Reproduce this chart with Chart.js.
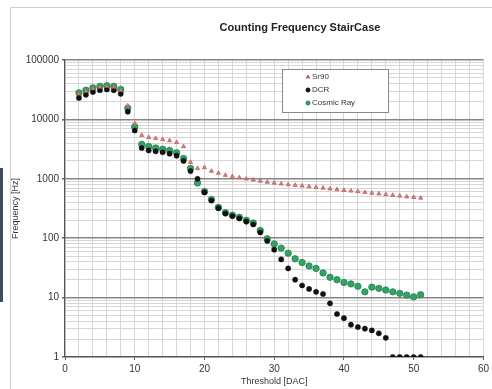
<!DOCTYPE html>
<html>
<head>
<meta charset="utf-8">
<script src="https://cdn.jsdelivr.net/npm/chart.js@4/dist/chart.umd.min.js"></script>
<style>
  html, body { margin: 0; padding: 0; background: #fff; }
  #wrap { width: 492px; height: 389px; position: relative; }
</style>
</head>
<body>
<div id="wrap"><canvas id="c"></canvas></div>
<script>
  // thresholds in DAC units
  var thresholds = [2, 3, 4, 5, 6, 7, 8, 9, 10, 11, 12, 13, 14, 15, 16, 17, 18, 19, 20, 21,
    22, 23, 24, 25, 26, 27, 28, 29, 30, 31, 32, 33, 34, 35, 36, 37, 38, 39, 40, 41,
    42, 43, 44, 45, 46, 47, 48, 49, 50, 51];

  var sr90 = [27000, 30000, 33000, 35000, 36000, 35000, 31000, 17000, 8500, 5400,
    5000, 4800, 4600, 4400, 4100, 3500, 1900, 1500, 1550, 1350,
    1250, 1150, 1100, 1050, 1000, 960, 920, 880, 850, 820,
    800, 780, 760, 740, 720, 700, 680, 660, 640, 625,
    610, 590, 575, 560, 545, 530, 515, 500, 490, 475];

  var dcr = [23000, 26000, 29000, 31000, 32000, 31000, 27000, 13500, 6500, 3300,
    3000, 2900, 2800, 2650, 2450, 2000, 1350, 1000, 590, 430,
    320, 260, 235, 215, 190, 170, 125, 90, 64, 44,
    31, 20, 16, 14, 12.5, 11.5, 8, 5.3, 4.5, 3.5,
    3.2, 3.0, 2.8, 2.5, 2.1, 1, 1, 1, 1, 1];

  var cosmic = [28000, 31000, 34000, 36000, 37000, 36000, 32000, 15500, 7500, 3800,
    3500, 3300, 3150, 3000, 2750, 2200, 1500, 850, 610, 450,
    330, 270, 245, 225, 200, 180, 135, 98, 80, 68,
    56, 45, 39, 34, 31, 26, 22, 20, 18, 17,
    15.5, 12.5, 15, 14.3, 13.4, 12.5, 11.8, 11, 10.3, 11.2];

  var yTicks = [];
  [1, 10, 100, 1000, 10000].forEach(function (d) {
    for (var k = 1; k < 10; k++) yTicks.push(d * k);
  });
  yTicks.push(100000);

  function pts(ys) {
    return ys.map(function (v, i) { return { x: thresholds[i], y: v }; });
  }
  function isDecade(v) {
    var l = Math.log10(v);
    return Math.abs(l - Math.round(l)) < 1e-9;
  }

  var FONT = "'Liberation Sans', Arial, sans-serif";

  // white page, thin frame and the blue strip on the left
  var framePlugin = {
    id: "frame",
    beforeDraw: function (chart) {
      var ctx = chart.ctx;
      ctx.save();
      ctx.fillStyle = "#fff";
      ctx.fillRect(0, 0, chart.width, chart.height);
      ctx.strokeStyle = "#cfcfcf";
      ctx.lineWidth = 1;
      ctx.beginPath();
      ctx.moveTo(10.5, 389);
      ctx.lineTo(10.5, 7.5);
      ctx.lineTo(492, 7.5);
      ctx.stroke();
      ctx.fillStyle = "#3c4d60";
      ctx.fillRect(0, 168, 3, 134);
      ctx.restore();
    },
    afterDraw: function (chart) {
      var ctx = chart.ctx;
      ctx.save();
      ctx.fillStyle = "#222";
      ctx.font = "bold 11px " + FONT;
      ctx.textAlign = "center";
      ctx.textBaseline = "middle";
      ctx.fillText("Counting Frequency StairCase", 300, 28);
      ctx.restore();
    }
  };

  // legend box sitting inside the plot, like the original
  var boxLegend = {
    id: "boxLegend",
    afterDatasetsDraw: function (chart) {
      var ctx = chart.ctx;
      ctx.save();
      ctx.fillStyle = "#fff";
      ctx.fillRect(282, 69, 106, 43);
      ctx.strokeStyle = "#8a8a8a";
      ctx.lineWidth = 1;
      ctx.strokeRect(282.5, 69.5, 106, 43);
      ctx.font = "8px " + FONT;
      ctx.textBaseline = "middle";
      chart.data.datasets.forEach(function (ds, i) {
        var y = 77 + i * 13;
        ctx.fillStyle = ds.pointBackgroundColor;
        ctx.strokeStyle = ds.pointBorderColor;
        Chart.helpers.drawPoint(ctx, {
          pointStyle: ds.pointStyle, radius: 2, rotation: 0, borderWidth: 0.6
        }, 308, y);
        ctx.fillStyle = "#333";
        ctx.fillText(ds.label, 312, y);
      });
      ctx.restore();
    }
  };

  new Chart(document.getElementById("c"), {
    type: "scatter",
    data: {
      datasets: [
        { label: "Sr90", data: pts(sr90), pointStyle: "triangle", pointRadius: 2.4,
          pointBackgroundColor: "#d88080", pointBorderColor: "#b85858", pointBorderWidth: 0.7 },
        { label: "DCR", data: pts(dcr), pointStyle: "circle", pointRadius: 2.6,
          pointBackgroundColor: "#111", pointBorderColor: "#111", pointBorderWidth: 0.5 },
        { label: "Cosmic Ray", data: pts(cosmic), pointStyle: "circle", pointRadius: 3.2,
          pointBackgroundColor: "#33a365", pointBorderColor: "#23804c", pointBorderWidth: 0.8 }
      ]
    },
    options: {
      responsive: true, maintainAspectRatio: false, animation: false,
      layout: { padding: { top: 60, right: 7, left: 0, bottom: 0 } },
      plugins: { legend: { display: false }, tooltip: { enabled: false } },
      scales: {
        x: {
          type: "linear", min: 0, max: 60,
          afterFit: function (s) { s.height = 32; },
          ticks: {
            stepSize: 2, autoSkip: false, maxRotation: 0, padding: 3,
            color: "#333", font: { family: FONT, size: 10 },
            callback: function (v) { return v % 10 === 0 ? String(v) : ""; }
          },
          grid: {
            color: "#d6d6d6", lineWidth: 1, tickLength: 3,
            tickColor: function (c) { return c.tick && c.tick.value % 10 === 0 ? "#666" : "rgba(0,0,0,0)"; }
          },
          border: { color: "#555", width: 1.2 },
          title: {
            display: true, text: "Threshold [DAC]", color: "#333",
            font: { family: FONT, size: 9 }, padding: { top: 0, bottom: 2 }
          }
        },
        y: {
          type: "logarithmic", min: 1, max: 100000,
          afterFit: function (s) { s.width = 65; },
          afterBuildTicks: function (s) {
            s.ticks = yTicks.map(function (v) { return { value: v }; });
          },
          ticks: {
            autoSkip: false, padding: 3, color: "#333", font: { family: FONT, size: 10 },
            callback: function (v) { return isDecade(v) ? String(v) : ""; }
          },
          grid: {
            color: function (c) { return c.tick && isDecade(c.tick.value) ? "#858585" : "#d6d6d6"; },
            lineWidth: function (c) { return c.tick && isDecade(c.tick.value) ? 1.6 : 1; },
            tickLength: 3,
            tickColor: function (c) { return c.tick && isDecade(c.tick.value) ? "#666" : "rgba(0,0,0,0)"; }
          },
          border: { color: "#555", width: 1.2 },
          title: {
            display: true, text: "Frequency [Hz]", color: "#333",
            font: { family: FONT, size: 9 }, padding: { top: 10, bottom: 0 }
          }
        }
      }
    },
    plugins: [framePlugin, boxLegend]
  });
</script>
</body>
</html>
